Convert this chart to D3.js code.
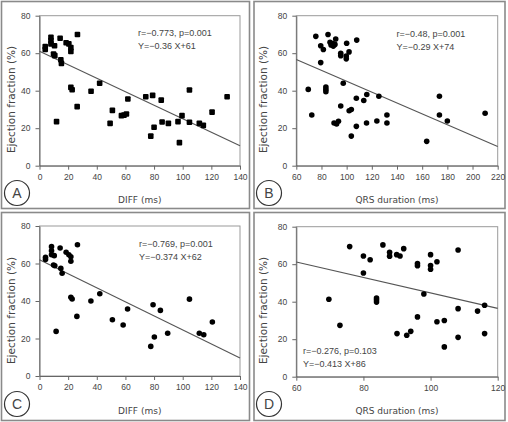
<!DOCTYPE html>
<html lang="en">
<head>
  <meta charset="UTF-8">
  <title>Ejection fraction scatter plots</title>
  <style>
    body { margin: 0; background: #fff; }
    text { font-family: "Liberation Sans", Arial, sans-serif; fill: #444; }
  </style>
</head>
<body>
  <script src="https://cdn.jsdelivr.net/npm/d3@7/dist/d3.min.js"></script>
  <script>
    // ---- data ----
    var efTicks = [0, 20, 40, 60, 80];
    var diffTicks = [0, 20, 40, 60, 80, 100, 120, 140];
    var qrsTicksB = [60, 80, 100, 120, 140, 160, 180, 200, 220];
    var qrsTicksD = [60, 80, 100, 120];

    // A: DIFF vs EF, all patients
    var diffA = [4, 4, 8, 8, 8, 9.8, 10.7, 10.5, 14.4, 14.9, 15.3, 18.6, 20.5, 21.9, 21.9, 26.5, 21.9, 22.8, 26.3, 11.9,
      36, 42, 50.9, 49.3, 57.2, 59, 60.7, 61.7, 74.2, 77.7, 79, 80, 85, 85.6, 90, 96.7, 97.7, 99.5, 104.7, 104.7,
      111.6, 114.4, 120.5, 131];
    var efA = [63.5, 62, 68.5, 66.7, 65, 59.6, 58.7, 64, 68, 56.5, 54.6, 65.6, 65, 63, 61, 70, 41.8, 40.5, 31.5, 23.5,
      39.7, 44, 29.5, 22.6, 26.7, 27, 27.6, 35.6, 36.8, 15.8, 37.5, 20.5, 35, 23.3, 22.6, 23.5, 12.3, 26.7, 40.4, 23.2,
      22.6, 21.5, 28.6, 36.8];

    // B: QRS duration vs EF, all patients
    var qrsB = [75.5, 79.4, 81.5, 79.4, 85.2, 86.8, 87.6, 88.9, 89.4, 90.7, 91.3, 95.3, 95.3, 100, 99.7, 99.7, 101.9, 108,
      97.3, 69.5, 83.5, 83.5, 83.5, 72.3, 95.3, 90, 92, 93.5, 102, 103.7, 107.7, 107.7, 103.7, 113.6, 116, 115.8,
      125.6, 124, 132, 132, 163.6, 173.7, 173.7, 180, 210];
    var efB = [69, 64, 62, 55, 70, 65.8, 64.4, 65.1, 63.8, 64.7, 67.6, 60, 58.7, 65.3, 58.5, 57, 60.7, 67,
      44, 40.7, 42, 40.7, 39.5, 27, 31.8, 22.8, 22.2, 23.7, 29.3, 30, 36, 21, 15.8, 34.8, 38, 22.8,
      37, 23.8, 27, 22.8, 13, 37, 27, 23.8, 28];

    // C: DIFF vs EF, narrow QRS subgroup
    var diffC = [4.2, 4.2, 8.4, 8.4, 8.4, 10.3, 9.8, 10.7, 14.4, 14.9, 15.8, 18.6, 20.5, 21.9, 21.9, 26.5, 21.9, 22.8,
      26.1, 11.6, 35.9, 42.1, 50.9, 58.4, 61.5, 77.7, 79.3, 80.2, 84.4, 89.5, 104.7, 111.6, 114.7, 120.7];
    var efC = [63.3, 62.2, 69, 66.8, 64.7, 64.2, 59.2, 58.8, 68.3, 57.4, 54.8, 66, 64.7, 63.6, 61.2, 70, 42, 41.1,
      31.8, 23.8, 40, 43.9, 30, 27.2, 35.7, 15.8, 38, 20.8, 35, 22.8, 41, 22.8, 22, 28.8];

    // D: QRS duration vs EF, narrow QRS subgroup
    var qrsD = [69.7, 73, 75.9, 80, 80, 82, 85.8, 87.8, 87.8, 89.9, 90.9, 92, 90, 92.9, 94.1, 83.9, 83.9, 83.9,
      96.1, 96.1, 96.1, 98, 100, 100, 100, 101.9, 101.9, 104.1, 104.1, 108.2, 108.2, 108.2, 114, 116.1, 116.1];
    var efD = [41.3, 27.4, 69.4, 64.4, 55.3, 62.4, 70.3, 66.4, 64.3, 65.1, 64.4, 68.3, 23, 22.1, 24.2, 42, 41, 39.8,
      31.9, 60.4, 59.2, 44.1, 65.1, 59.3, 57.3, 61.3, 29.3, 30, 15.9, 67.6, 36.3, 21, 35, 38.1, 23];

    // regression lines and stats as printed on each panel
    var slopes = [-0.36, -0.29, -0.374, -0.413];
    var intercepts = [61, 74, 62, 86];
    var statLines = ["r=\u22120.773, p=0.001", "r=\u22120.48, p=0.001", "r=\u22120.769, p=0.001", "r=\u22120.276, p=0.103"];
    var eqLines = ["Y=\u22120.36 X+61", "Y=\u22120.29 X+74", "Y=\u22120.374 X+62", "Y=\u22120.413 X+86"];
    var letters = ["A", "B", "C", "D"];

    // ---- layout ----
    var width = 508, height = 422;
    var svg = d3.select("body").append("svg")
      .attr("width", width)
      .attr("height", height);

    var panels = [
      { xs: diffA, ys: efA, xDom: [0, 140], xTicks: diffTicks, xLabel: "DIFF (ms)", marker: "square",
        frame: [1.5, 1.5, 248, 207], plot: [39.5, 15.7, 240, 165.7], stat: [138, 36], circle: [17, 193] },
      { xs: qrsB, ys: efB, xDom: [60, 220], xTicks: qrsTicksB, xLabel: "QRS duration (ms)", marker: "circle",
        frame: [254, 1.5, 251, 207], plot: [296.3, 15.7, 497.7, 165.7], stat: [396.5, 36.5], circle: [269, 193] },
      { xs: diffC, ys: efC, xDom: [0, 140], xTicks: diffTicks, xLabel: "DIFF (ms)", marker: "circle",
        frame: [1.5, 212.5, 248, 208], plot: [39.5, 226, 240, 376], stat: [139, 246.5], circle: [17, 404] },
      { xs: qrsD, ys: efD, xDom: [60, 120], xTicks: qrsTicksD, xLabel: "QRS duration (ms)", marker: "circle",
        frame: [254, 212.5, 251, 208], plot: [296.3, 226.7, 497.7, 376.7], stat: [303, 354], circle: [269, 404] }
    ];

    panels.forEach(function (p, i) {
      var g = svg.append("g");

      // outer frame
      g.append("rect")
        .attr("x", p.frame[0]).attr("y", p.frame[1])
        .attr("width", p.frame[2]).attr("height", p.frame[3])
        .attr("fill", "none")
        .attr("stroke", "#8a8a8a")
        .attr("stroke-width", 1.6);

      var x = d3.scaleLinear().domain(p.xDom).range([p.plot[0], p.plot[2]]);
      var y = d3.scaleLinear().domain([0, 80]).range([p.plot[3], p.plot[1]]);

      // plot box (top/right edges)
      g.append("rect")
        .attr("x", p.plot[0]).attr("y", p.plot[1])
        .attr("width", p.plot[2] - p.plot[0]).attr("height", p.plot[3] - p.plot[1])
        .attr("fill", "none")
        .attr("stroke", "#9a9a9a")
        .attr("stroke-width", 1);

      var yAxis = g.append("g")
        .attr("transform", "translate(" + p.plot[0] + ",0)")
        .call(d3.axisLeft(y).tickValues(efTicks).tickSize(4).tickSizeOuter(0).tickPadding(5));
      var xAxis = g.append("g")
        .attr("transform", "translate(0," + p.plot[3] + ")")
        .call(d3.axisBottom(x).tickValues(p.xTicks).tickSize(4).tickSizeOuter(0).tickPadding(4));

      [yAxis, xAxis].forEach(function (ax) {
        ax.select(".domain").attr("stroke", "#666");
        ax.selectAll(".tick line").attr("stroke", "#666");
        ax.selectAll(".tick text")
          .attr("fill", "#444")
          .style("font-family", "'Liberation Sans', Arial, sans-serif")
          .style("font-size", "8.5px");
      });

      // axis titles
      g.append("text")
        .attr("transform", "translate(" + (p.frame[0] + 9) + "," + (p.frame[1] + 98) + ") rotate(-90)")
        .attr("text-anchor", "middle")
        .attr("dominant-baseline", "central")
        .style("font-family", "'DejaVu Sans', sans-serif")
        .style("font-size", "10.5px")
        .attr("fill", "#555")
        .text("Ejection fraction (%)");

      g.append("text")
        .attr("x", (p.plot[0] + p.plot[2]) / 2)
        .attr("y", p.frame[1] + 198.5)
        .attr("text-anchor", "middle")
        .attr("dominant-baseline", "central")
        .style("font-family", "'DejaVu Sans', sans-serif")
        .style("font-size", "9px")
        .attr("fill", "#555")
        .text(p.xLabel);

      // regression line
      var x0 = p.xDom[0], x1 = p.xDom[1];
      g.append("line")
        .attr("x1", x(x0)).attr("y1", y(slopes[i] * x0 + intercepts[i]))
        .attr("x2", x(x1)).attr("y2", y(slopes[i] * x1 + intercepts[i]))
        .attr("stroke", "#555")
        .attr("stroke-width", 1.1);

      // points
      var pts = p.xs.map(function (v, k) { return [v, p.ys[k]]; });
      if (p.marker === "square") {
        g.selectAll("rect.pt").data(pts).enter().append("rect")
          .attr("class", "pt")
          .attr("x", function (d) { return x(d[0]) - 2.8; })
          .attr("y", function (d) { return y(d[1]) - 2.8; })
          .attr("width", 5.6).attr("height", 5.6)
          .attr("rx", 1)
          .attr("fill", "#000");
      } else {
        g.selectAll("circle.pt").data(pts).enter().append("circle")
          .attr("class", "pt")
          .attr("cx", function (d) { return x(d[0]); })
          .attr("cy", function (d) { return y(d[1]); })
          .attr("r", 2.8)
          .attr("fill", "#000");
      }

      // stats text
      g.append("text")
        .attr("x", p.stat[0]).attr("y", p.stat[1])
        .style("font-size", "9px")
        .attr("fill", "#444")
        .text(statLines[i]);
      g.append("text")
        .attr("x", p.stat[0]).attr("y", p.stat[1] + 13.3)
        .style("font-size", "9px")
        .attr("fill", "#444")
        .text(eqLines[i]);

      // panel letter
      g.append("circle")
        .attr("cx", p.circle[0]).attr("cy", p.circle[1])
        .attr("r", 12.5)
        .attr("fill", "#fff")
        .attr("stroke", "#333")
        .attr("stroke-width", 1.2);
      g.append("text")
        .attr("x", p.circle[0]).attr("y", p.circle[1])
        .attr("text-anchor", "middle")
        .attr("dominant-baseline", "central")
        .style("font-size", "14px")
        .attr("fill", "#222")
        .text(letters[i]);
    });
  </script>
</body>
</html>
